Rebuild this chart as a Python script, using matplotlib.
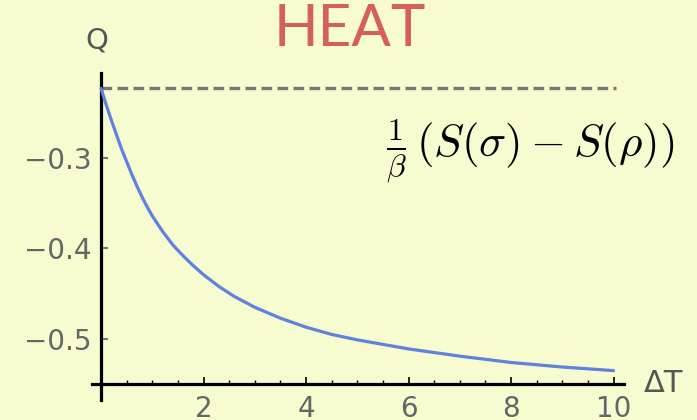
import matplotlib
matplotlib.use("Agg")
import matplotlib.pyplot as plt
from matplotlib.ticker import MultipleLocator

# Data
dT = [0, 0.1, 0.2, 0.3, 0.4, 0.5, 0.6, 0.7, 0.8, 0.9, 1.0, 1.2, 1.4, 1.6, 1.8, 2.0,
      2.3, 2.6, 3.0, 3.5, 4.0, 4.5, 5.0, 5.5, 6.0, 7.0, 8.0, 9.0, 10.0]
Q = [-0.223, -0.241, -0.258, -0.274, -0.290, -0.304, -0.318, -0.331, -0.343, -0.354,
     -0.364, -0.381, -0.396, -0.408, -0.419, -0.429, -0.442, -0.453, -0.465, -0.477,
     -0.487, -0.495, -0.501, -0.506, -0.511, -0.519, -0.526, -0.531, -0.535]
bound = -0.223
xticks = [2, 4, 6, 8, 10]
yticks = [-0.5, -0.4, -0.3]
ytick_labels = ["\u22120.5", "\u22120.4", "\u22120.3"]

BG = "#F6FBD0"
plt.rcParams['mathtext.fontset'] = 'cm'

fig = plt.figure(figsize=(6.97, 4.2), dpi=100, facecolor=BG)
ax = fig.add_axes([0.1302, 0.0486, 0.7721, 0.78])
ax.set_facecolor(BG)
ax.set_xlim(-0.2, 10.3)
ax.set_ylim(-0.567, -0.205)

ax.plot(dT, Q, color="#5E82DE", lw=2.3, solid_capstyle='round', solid_joinstyle='round', zorder=3)
ax.plot([0, 10.05], [bound, bound], color="#777777", lw=2.4, ls=(0, (3.2, 1.6)), zorder=2)

for s in ['top', 'right']:
    ax.spines[s].set_visible(False)
ax.spines['left'].set_position(('data', 0))
ax.spines['bottom'].set_position(('data', -0.55))
ax.spines['left'].set_bounds(-0.567, -0.206)
ax.spines['bottom'].set_bounds(-0.18, 10.2)
for s in ['left', 'bottom']:
    ax.spines[s].set_linewidth(2.3)
    ax.spines[s].set_color('black')

ax.set_xticks(xticks)
ax.set_xticklabels([str(t) for t in xticks])
ax.xaxis.set_minor_locator(MultipleLocator(0.5))
ax.set_yticks(yticks)
ax.set_yticklabels(ytick_labels)

ax.tick_params(axis='x', which='major', direction='in', length=5, width=1.2, color='black',
               pad=8, labelsize=20, labelcolor='#666666')
ax.tick_params(axis='x', which='minor', direction='in', length=3, width=1.0, color='black')
ax.tick_params(axis='y', which='major', direction='in', length=5, width=1.5, color='#777777',
               pad=7, labelsize=20, labelcolor='#666666')
for lab in ax.get_xticklabels() + ax.get_yticklabels():
    lab.set_fontfamily('DejaVu Sans')

fig.text(97/697, 1 - 40/420, "Q", fontsize=21, color='#555555', family='DejaVu Sans',
         ha='center', va='center')
fig.text(663/697, 1 - 384/420, "\u0394T", fontsize=22, color='#555555', family='DejaVu Sans',
         ha='center', va='center')
fig.text(350/697, 1 - 30/420, "HEAT", fontsize=42, color='#D5605B', family='Lato',
         ha='center', va='center')
fig.text(386/697, 1 - 152/420, r"$\frac{1}{\beta}\,(S(\sigma) - S(\rho))$", fontsize=32.5,
         color='black', ha='left', va='center')

fig.savefig("out.png", dpi=100, facecolor=BG)
